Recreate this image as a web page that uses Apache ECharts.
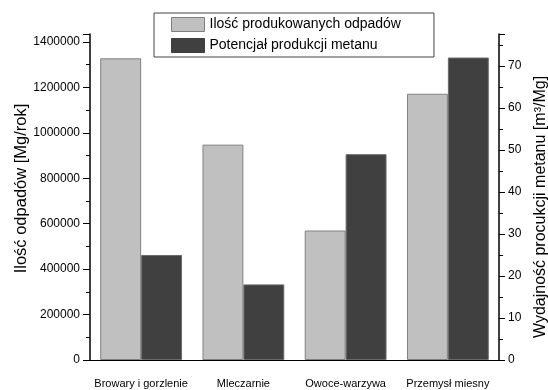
<!DOCTYPE html>
<html><head><meta charset="utf-8">
<script src="https://cdn.jsdelivr.net/npm/echarts@6/dist/echarts.min.js"></script>
<style>html,body{margin:0;padding:0;background:#fff}#c{width:548px;height:390px}</style>
</head><body><div id="c"></div>
<script>
var categories = ['Browary i gorzlenie', 'Mleczarnie', 'Owoce-warzywa', 'Przemysł miesny'];
var wasteAmount = [1328000, 948000, 570000, 1172000];
var methaneYield = [25, 18, 49, 72];
var seriesNames = ['Ilość produkowanych odpadów', 'Potencjał produkcji metanu'];
var leftTitle = 'Ilość odpadów [Mg/rok]';
var rightTitle = 'Wydajność procukcji metanu [m³/Mg]';

var font = 'Liberation Sans, Arial, sans-serif';
var chart = echarts.init(document.getElementById('c'));
chart.setOption({
  animation: false,
  backgroundColor: '#fff',
  textStyle: {fontFamily: font},
  grid: {left: 90, right: 49, top: 34, bottom: 30, containLabel: false, outerBoundsMode: 'none'},
  legend: {
    orient: 'vertical', left: 154, top: 13,
    padding: [4, 33, 4, 17], itemGap: 6,
    itemWidth: 33, itemHeight: 14,
    borderColor: '#444', borderWidth: 1, backgroundColor: '#fff',
    textStyle: {fontSize: 14, color: '#000', fontFamily: font},
    data: [
      {name: seriesNames[0], icon: 'rect', itemStyle: {color: '#c0c0c0', borderColor: '#808080', borderWidth: 1}},
      {name: seriesNames[1], icon: 'rect', itemStyle: {color: '#404040', borderColor: '#404040', borderWidth: 1}}
    ]
  },
  xAxis: {
    type: 'category', data: categories,
    axisLine: {lineStyle: {color: '#000', width: 1}},
    axisTick: {show: false},
    axisLabel: {color: '#000', fontSize: 11, margin: 18, interval: 0}
  },
  yAxis: [
    {
      type: 'value', min: 0, max: 1435000, interval: 200000,
      name: leftTitle, nameLocation: 'middle', nameGap: 60, nameMoveOverlap: false,
      nameTextStyle: {fontSize: 16.5, color: '#000', padding: [0, 0, 0, 17]},
      axisLine: {show: true, lineStyle: {color: '#000', width: 1.5}},
      axisTick: {show: true, inside: false, length: 7, lineStyle: {color: '#000'}},
      minorTick: {show: true, splitNumber: 2, length: 4, lineStyle: {color: '#000'}},
      splitLine: {show: false},
      axisLabel: {color: '#000', fontSize: 12, margin: 10, showMaxLabel: false,
        formatter: function (v) { return String(v); }}
    },
    {
      type: 'value', min: 0, max: 77.6, interval: 10,
      name: rightTitle, nameLocation: 'middle', nameGap: 32,
      nameTextStyle: {fontSize: 16, color: '#000', padding: [0, 20, 0, 0]},
      axisLine: {show: true, lineStyle: {color: '#000', width: 1.5}},
      axisTick: {show: true, inside: false, length: 6, lineStyle: {color: '#000'}},
      minorTick: {show: true, splitNumber: 2, length: 4, lineStyle: {color: '#000'}},
      splitLine: {show: false},
      axisLabel: {color: '#000', fontSize: 12, margin: 9, showMaxLabel: false,
        formatter: function (v) { return String(v); }}
    }
  ],
  series: [
    {
      name: seriesNames[0], type: 'bar', yAxisIndex: 0, data: wasteAmount,
      barGap: '0%', barCategoryGap: '20%',
      itemStyle: {color: '#c0c0c0', borderColor: '#808080', borderWidth: 1}
    },
    {
      name: seriesNames[1], type: 'bar', yAxisIndex: 1, data: methaneYield,
      barGap: '0%', barCategoryGap: '20%',
      itemStyle: {color: '#404040', borderColor: '#6a6a6a', borderWidth: 1}
    }
  ]
});
</script></body></html>
